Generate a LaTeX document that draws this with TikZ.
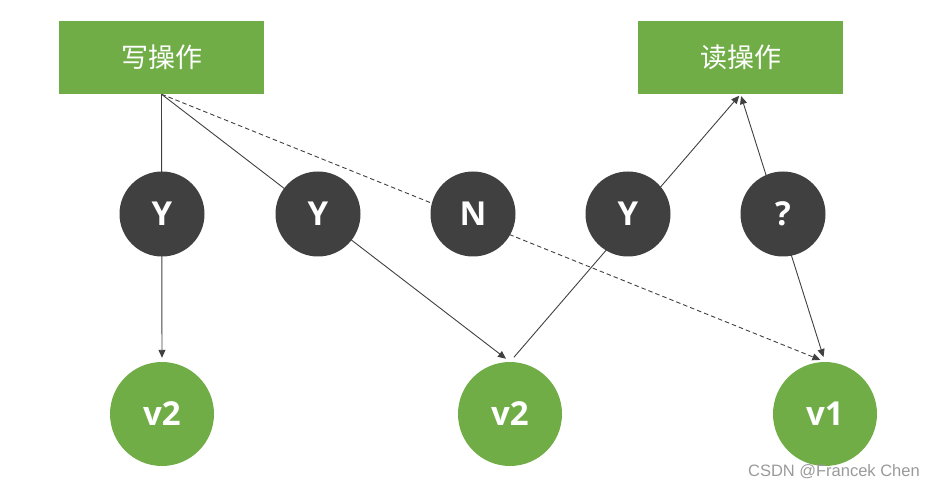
\documentclass[tikz,border=0pt]{standalone}
\usepackage{fontspec}
\setmainfont{Open Sans}
\newfontfamily\cjk{Noto Sans CJK SC}
\newfontfamily\wmfont{Liberation Sans}
\usetikzlibrary{arrows.meta,backgrounds}
\definecolor{gr}{HTML}{70AD47}
\definecolor{dk}{HTML}{404040}
\definecolor{wmc}{HTML}{9A9A9A}
\begin{document}
\begin{tikzpicture}[x=1pt,y=-1pt,
  opbox/.style={fill=gr, minimum width=205pt, minimum height=73pt, inner sep=0pt, text=white, font=\cjk\fontsize{27}{32}\selectfont},
  dot/.style={circle, fill=dk, minimum size=85pt, inner sep=0pt, text=white, font=\bfseries\fontsize{33}{40}\selectfont},
  ver/.style={circle, fill=gr, minimum size=104pt, inner sep=0pt, text=white, font=\bfseries\fontsize{33}{40}\selectfont},
  ln/.style={draw=dk, line width=0.9pt, -{Triangle[length=8pt,width=7pt]}},
  dln/.style={ln, dash pattern=on 4.5pt off 3pt}
]
\useasboundingbox (0,0) rectangle (935,489);
\node[opbox] (w) at (161.5,57.5) {写操作};
\node[opbox] (r) at (740.5,57.5) {读操作};
\node[dot] (y1) at (162,214) {Y};
\node[dot] (y2) at (318,214) {Y};
\node[dot] (n)  at (473,214) {N};
\node[dot] (y3) at (628,214) {Y};
\node[dot] (q)  at (783,214) {?};
\node[ver] (g1) at (162,414) {v2};
\node[ver] (g2) at (510,414) {v2};
\node[ver] (g3) at (825,414) {v1};
\node[font=\wmfont\fontsize{16.5}{20}\selectfont, text=wmc, anchor=east, inner sep=0pt] (wm) at (920,472) {CSDN @Francek Chen};
\begin{scope}[on background layer]
\draw[ln, shorten >=4pt] (w.south) -- (g1.north);
\draw[ln, shorten >=5pt] (w.south) -- (g2.north);
\draw[dln, shorten >=5pt] (w.south) -- (g3.north);
\draw[ln, shorten <=6pt, shorten >=2pt] (g2.north) -- (r.south);
\draw[draw=dk, line width=0.9pt, {Triangle[length=8pt,width=7pt]}-{Triangle[length=8pt,width=7pt]}, shorten <=2pt, shorten >=5pt] (r.south) -- (g3.north);
\end{scope}
\end{tikzpicture}
\end{document}
